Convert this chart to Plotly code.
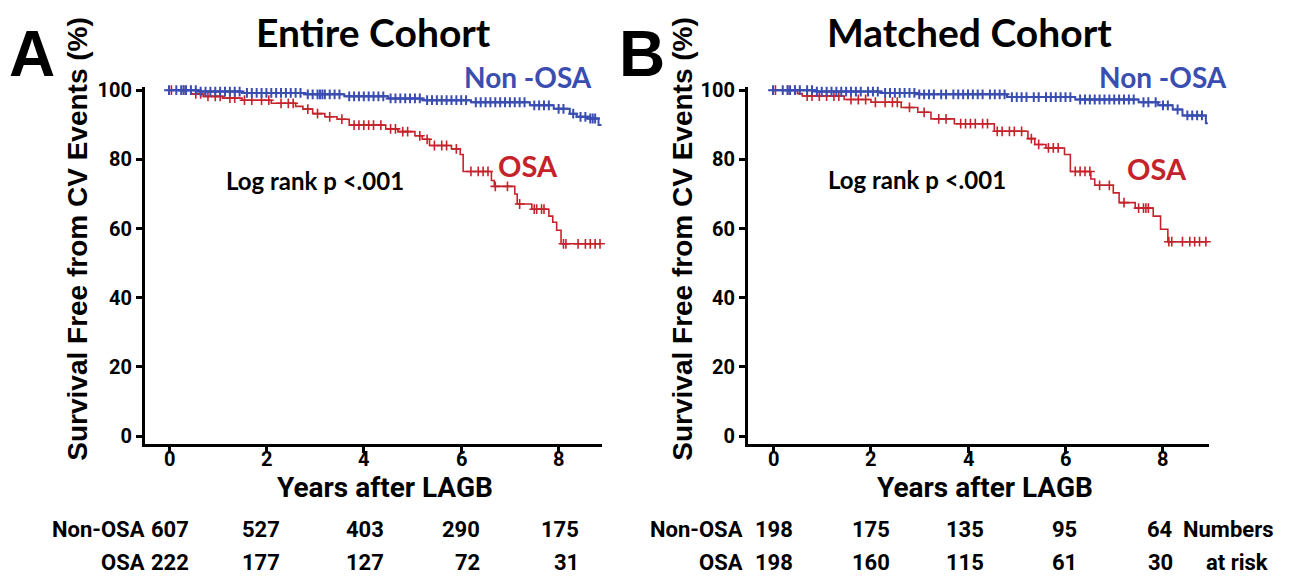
import numpy as np
import plotly.graph_objects as go

# ---------------- data ----------------
years_ticks = [0, 2, 4, 6, 8]
y_ticks = [0, 20, 40, 60, 80, 100]

# Panel A (Entire cohort) - Kaplan-Meier step functions (time in years, survival %)
a_non_t = [0, 0.6, 1.5, 2.8, 3.6, 4.5, 5.2, 6.2, 7.41, 7.9, 8.23, 8.37, 8.6, 8.82, 8.88]
a_non_s = [100, 99.6, 99.2, 98.8, 98.2, 97.6, 97.1, 96.5, 95.6, 94.6, 93.2, 92.3, 91.8, 89.9, 89.9]
a_osa_t = [0, 0.45, 0.7, 1.1, 1.5, 2.1, 2.6, 2.75, 2.95, 3.2, 3.45, 3.7, 4.45, 4.7, 5.05, 5.2,
           5.35, 5.8, 5.98, 6.04, 6.62, 6.68, 7.1, 7.15, 7.45, 7.8, 7.88, 7.96, 8.05, 8.85]
a_osa_s = [100, 98.9, 98.2, 97.7, 97.1, 96.2, 95.3, 94.5, 93.2, 92.3, 91.6, 89.9, 88.8, 88.0, 86.8, 85.8,
           84.0, 83.0, 81.4, 76.5, 73.9, 72.2, 70.0, 67.1, 65.6, 63.6, 61.8, 59.5, 55.6, 55.6]
a_non_c = [0.0, 0.15, 0.25, 0.3, 0.35, 0.45, 0.55, 0.65, 0.75, 0.85, 0.95, 1.05, 1.15, 1.25, 1.35,
           1.45, 1.6, 1.7, 1.8, 1.9, 2.0, 2.1, 2.2, 2.3, 2.4, 2.5, 2.6, 2.7, 2.85, 2.95, 3.05,
           3.1, 3.15, 3.2, 3.3, 3.4, 3.5, 3.7, 3.8, 3.9, 4.0, 4.1, 4.2, 4.3, 4.4, 4.55, 4.65,
           4.75, 4.85, 4.95, 5.05, 5.15, 5.3, 5.4, 5.5, 5.6, 5.7, 5.8, 5.9, 6.0, 6.1, 6.3,
           6.4, 6.5, 6.6, 6.7, 6.8, 6.9, 7.0, 7.1, 7.2, 7.3, 7.5, 7.6, 7.7, 7.8, 8.0, 8.1,
           8.3, 8.45, 8.55, 8.65, 8.7, 8.75]
a_osa_c = [0.05, 0.3, 0.55, 0.65, 0.8, 0.95, 1.05, 1.25, 1.35, 1.55, 1.7, 1.9, 2.05, 2.3, 2.45,
           2.55, 2.85, 3.05, 3.3, 3.55, 3.8, 3.9, 4.0, 4.1, 4.2, 4.35, 4.55, 4.65, 4.8, 4.9, 5.15,
           5.3, 5.45, 5.6, 5.7, 5.9, 6.2, 6.35, 6.45, 6.55, 6.7, 6.95, 7.2, 7.5, 7.55, 7.65, 7.7,
           8.1, 8.15, 8.4, 8.55, 8.65, 8.75, 8.85]

# Panel B (Matched cohort)
b_non_t = [0, 0.9, 2.2, 3.0, 4.8, 6.2, 7.5, 7.9, 8.2, 8.4, 8.88, 8.92]
b_non_s = [100, 99.6, 99.2, 98.8, 98.0, 97.3, 96.5, 95.6, 94.4, 92.7, 90.4, 90.4]
b_osa_t = [0, 0.5, 0.6, 1.46, 2.01, 2.63, 2.97, 3.24, 3.72, 4.54, 5.23, 5.37, 5.6, 5.98, 6.1,
           6.52, 6.6, 6.98, 7.1, 7.43, 7.8, 7.95, 8.1, 8.92]
b_osa_s = [100, 99.0, 98.3, 97.3, 96.5, 95.0, 93.6, 91.7, 90.3, 88.1, 86.0, 84.3, 83.3, 81.4, 76.5,
           74.3, 72.5, 70.3, 67.5, 65.9, 63.6, 59.8, 56.2, 56.2]
b_non_c = [0.0, 0.2, 0.3, 0.35, 0.45, 0.55, 0.7, 0.8, 0.9, 1.0, 1.1, 1.2, 1.3, 1.4, 1.5,
           1.6, 1.7, 1.8, 1.95, 2.05, 2.15, 2.3, 2.4, 2.5, 2.6, 2.7, 2.8, 2.9, 3.0, 3.1, 3.2,
           3.3, 3.45, 3.55, 3.7, 3.8, 3.9, 4.0, 4.1, 4.2, 4.3, 4.45, 4.55, 4.65, 4.75, 4.9,
           5.0, 5.1, 5.2, 5.35, 5.45, 5.6, 5.7, 5.8, 5.9, 6.0, 6.1, 6.3, 6.4, 6.5, 6.6, 6.7,
           6.8, 6.9, 7.0, 7.1, 7.2, 7.3, 7.4, 7.6, 7.7, 7.85, 8.0, 8.1, 8.3, 8.5, 8.6, 8.7, 8.8]
b_osa_c = [0.05, 0.3, 0.45, 0.7, 0.8, 0.95, 1.1, 1.25, 1.35, 1.6, 1.75, 1.9, 2.1, 2.3, 2.45,
           2.55, 2.8, 3.1, 3.4, 3.55, 3.85, 3.95, 4.05, 4.15, 4.3, 4.4, 4.6, 4.7, 4.85, 4.95,
           5.1, 5.3, 5.45, 5.65, 5.75, 5.85, 6.2, 6.3, 6.4, 6.5, 6.7, 6.9, 7.2, 7.5, 7.6, 7.65,
           7.7, 8.12, 8.18, 8.4, 8.55, 8.65, 8.75, 8.88]

# numbers at risk
a_risk_non = ["607", "527", "403", "290", "175"]
a_risk_osa = ["222", "177", "127", "72", "31"]
b_risk_non = ["198", "175", "135", "95", "64"]
b_risk_osa = ["198", "160", "115", "61", "30"]

BLUE = "#3a4db0"
RED = "#c5232b"
W, H = 1302, 578


def step_at(t_arr, s_arr, c_arr):
    t = np.asarray(t_arr)
    s = np.asarray(s_arr)
    idx = np.searchsorted(t, np.asarray(c_arr), side="right") - 1
    return s[idx]


fig = go.Figure()

panels = [
    ("x", "y", a_non_t, a_non_s, a_non_c, a_osa_t, a_osa_s, a_osa_c),
    ("x2", "y2", b_non_t, b_non_s, b_non_c, b_osa_t, b_osa_s, b_osa_c),
]
for xa, ya, nt, ns, nc, ot, os_, oc in panels:
    for t, s, c, col, lw in [(ot, os_, oc, RED, 1.6), (nt, ns, nc, BLUE, 2.0)]:
        fig.add_trace(go.Scatter(x=t, y=s, xaxis=xa, yaxis=ya, mode="lines",
                                 line=dict(color=col, width=lw, shape="hv"),
                                 showlegend=False, hoverinfo="skip", cliponaxis=False))
        fig.add_trace(go.Scatter(x=c, y=step_at(t, s, c), xaxis=xa, yaxis=ya, mode="markers",
                                 marker=dict(symbol="cross-thin-open", size=7, color=col,
                                             line=dict(color=col, width=lw)),
                                 showlegend=False, hoverinfo="skip", cliponaxis=False))

tickfont = dict(family="Roboto, sans-serif", size=20, color="black", weight="bold")
axis_common = dict(showline=True, linecolor="black", linewidth=3, ticks="outside",
                   ticklen=6, tickwidth=3, tickcolor="black", showgrid=False,
                   zeroline=False, tickfont=tickfont)

y_dom = [1 - 445 / H, 1 - 80 / H]
fig.update_layout(
    width=W, height=H, margin=dict(l=0, r=0, t=0, b=0),
    paper_bgcolor="white", plot_bgcolor="white",
    xaxis=dict(domain=[145 / W, 602 / W], range=[-0.493, 8.891], tickvals=years_ticks,
               anchor="y", showticklabels=False, **axis_common),
    yaxis=dict(domain=y_dom, range=[-2.26, 100.85], tickvals=y_ticks, anchor="x",
               **axis_common),
    xaxis2=dict(domain=[748 / W, 1209 / W], range=[-0.513, 8.944], tickvals=years_ticks,
                anchor="y2", showticklabels=False, **axis_common),
    yaxis2=dict(domain=y_dom, range=[-2.26, 100.85], tickvals=y_ticks, anchor="x2",
                **axis_common),
)

ann = []


def txt(x, y, text, size, family, color="black", bold=True, xanchor="center",
        angle=0, xref="paper", xshift=0):
    ann.append(dict(x=x if xref != "paper" else x / W, y=1 - y / H, xref=xref, yref="paper",
                    text=text, showarrow=False, xanchor=xanchor, yanchor="middle",
                    textangle=angle, xshift=xshift,
                    font=dict(family=family, size=size, color=color,
                              weight="bold" if bold else "normal")))


ARIAL = "Liberation Sans, Arial, sans-serif"
CAL = "Lato, Calibri, sans-serif"
NARROW = "Roboto, sans-serif"

# x tick labels (from tick values, placed close under the axis)
for yr in years_ticks:
    txt(yr, 460, str(yr), 20, NARROW, xref="x")
    txt(yr, 460, str(yr), 20, NARROW, xref="x2")

# panel letters and titles
txt(32, 46, "A", 64, ARIAL)
txt(642, 46, "B", 64, ARIAL)
txt(373, 24, "Entire Cohort", 39, CAL)
txt(969, 24, "Matched Cohort", 39, CAL)

# y titles
txt(78, 236, "Survival Free from CV Events (%)", 28, ARIAL, angle=-90)
txt(683, 236, "Survival Free from CV Events (%)", 28, ARIAL, angle=-90)
# x titles
txt(385, 489, "Years after LAGB", 28, NARROW)
txt(985, 489, "Years after LAGB", 28, NARROW)

# curve labels
txt(528, 70, "Non -OSA", 28, CAL, color=BLUE)
txt(528, 160, "OSA", 29, CAL, color=RED)
txt(1163, 70, "Non -OSA", 28, CAL, color=BLUE)
txt(1157, 163, "OSA", 29, CAL, color=RED)
txt(315, 175, "Log rank p <.001", 24, CAL, bold=True)
txt(917, 174, "Log rank p <.001", 24, CAL, bold=True)

# numbers at risk
ROW1, ROW2 = 532, 566
txt(147, ROW1, "Non-OSA", 22, NARROW, xanchor="right")
txt(147, ROW2, "OSA", 22, NARROW, xanchor="right")
txt(745, ROW1, "Non-OSA", 22, NARROW, xanchor="right")
txt(745, ROW2, "OSA", 22, NARROW, xanchor="right")
a_shift = [22, 16, 22, 21, 22]
b_shift = [22, 21, 18, 14, 12]
for i, yr in enumerate(years_ticks):
    txt(yr, ROW1, a_risk_non[i], 22, NARROW, xanchor="right", xref="x", xshift=a_shift[i])
    txt(yr, ROW2, a_risk_osa[i], 22, NARROW, xanchor="right", xref="x", xshift=a_shift[i])
    txt(yr, ROW1, b_risk_non[i], 22, NARROW, xanchor="right", xref="x2", xshift=b_shift[i])
    txt(yr, ROW2, b_risk_osa[i], 22, NARROW, xanchor="right", xref="x2", xshift=b_shift[i])
txt(1181, ROW1, "Numbers", 22, NARROW, xanchor="left")
txt(1204, ROW2, "at risk", 22, NARROW, xanchor="left")

fig.update_layout(annotations=ann)
fig.write_html("out.html")
